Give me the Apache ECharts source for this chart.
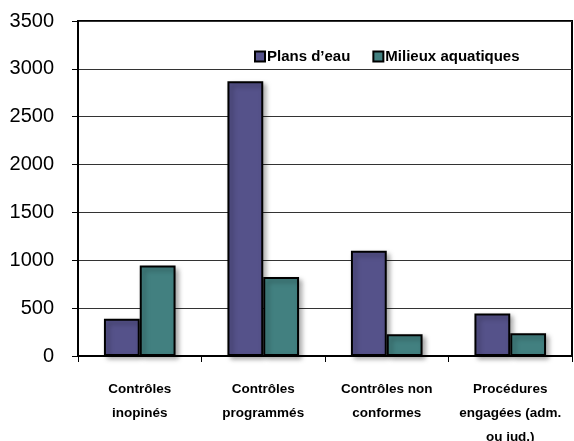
<!DOCTYPE html>
<html><head><meta charset="utf-8">
<script src="https://cdn.jsdelivr.net/npm/echarts@6/dist/echarts.min.js"></script>
<style>html,body{margin:0;padding:0;background:#fff}#c{width:574px;height:441px}</style>
</head><body><div id="c"></div>
<script>
const categories = ['Contrôles\ninopinés', 'Contrôles\nprogrammés', 'Contrôles non\nconformes', 'Procédures\nengagées (adm.\nou jud.)'];
const plansDeau = [390, 2870, 1100, 445];
const milieuxAquatiques = [945, 825, 228, 238];
const yTicks = [0, 500, 1000, 1500, 2000, 2500, 3000, 3500];

const chart = echarts.init(document.getElementById('c'));
const shadow = {borderColor:'#000', borderWidth:2, shadowBlur:5, shadowOffsetX:3, shadowOffsetY:3, shadowColor:'rgba(0,0,0,0.35)'};
chart.setOption({
  animation:false,
  textStyle:{fontFamily:'Liberation Sans, Arial, sans-serif'},
  grid:{left:78, right:2, top:21, bottom:85, show:true, borderColor:'#000', borderWidth:2, outerBoundsMode:'none', containLabel:false},
  legend:{left:249, top:44, icon:'rect', itemWidth:10, itemHeight:10, itemGap:22,
    textStyle:{fontWeight:'bold', fontSize:15, color:'#000', padding:[0,0,0,-3]}},
  xAxis:{type:'category', data:categories,
    axisLine:{lineStyle:{color:'#000', width:2}},
    axisTick:{show:true, length:6, lineStyle:{color:'#000', width:1}},
    axisLabel:{fontSize:13.5, fontWeight:'bold', color:'#000', lineHeight:24, margin:21, interval:0}},
  yAxis:{type:'value', min:yTicks[0], max:yTicks[yTicks.length-1], interval:500,
    axisLine:{show:true, lineStyle:{color:'#000', width:2}},
    axisTick:{show:true, length:6, lineStyle:{color:'#000'}},
    axisLabel:{fontSize:20, color:'#000', margin:24, formatter:function(v){return String(v);}},
    splitLine:{lineStyle:{color:'#333', width:1}}},
  series:[
    {name:'Plans d’eau', type:'bar', data:plansDeau, barGap:'0%', barCategoryGap:'42%',
      itemStyle:Object.assign({color:'#55528A'}, shadow)},
    {name:'Milieux aquatiques', type:'bar', data:milieuxAquatiques,
      itemStyle:Object.assign({color:'#428080'}, shadow)}
  ]
});
</script></body></html>
